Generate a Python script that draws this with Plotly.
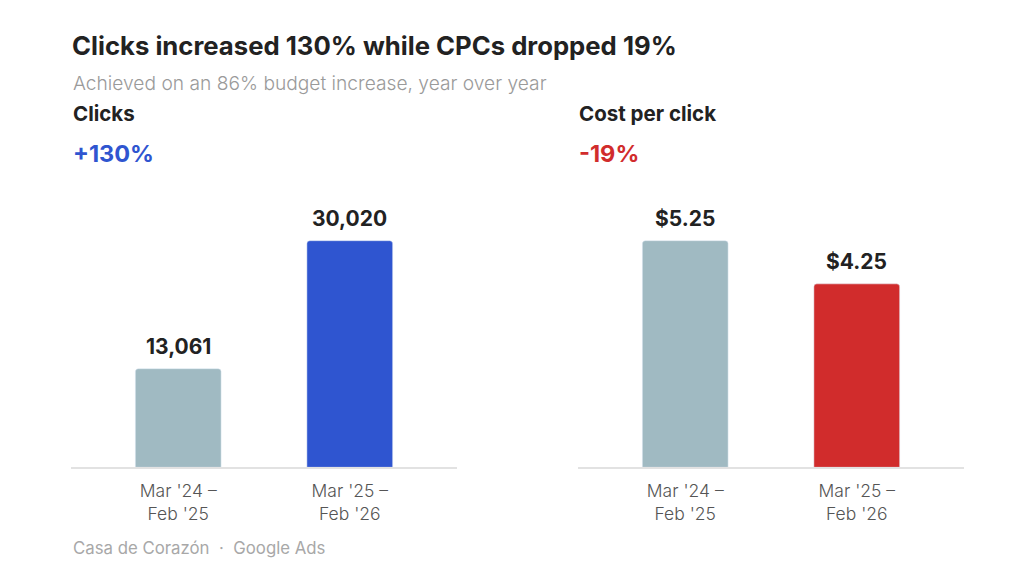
import plotly.graph_objects as go

periods = ["Mar '24 –<br>Feb '25", "Mar '25 –<br>Feb '26"]
clicks = [13061, 30020]
cpc = [5.25, 4.25]
clicks_labels = ["13,061", "30,020"]
cpc_labels = ["$5.25", "$4.25"]
clicks_change = "+130%"
cpc_change = "-19%"

W, H = 1024, 585
OFF = 8  # page body margin
FONT = "Inter"
GREY_BAR = "#A0BAC2"
BLUE = "#2F55D0"
RED = "#D12C2C"
DARK = "#222222"

def px(x):
    return (x - OFF) / W

def py(y):
    return 1 - (y - OFF) / H

cats = [0, 1]
fig = go.Figure()
fig.add_trace(go.Bar(x=cats, y=clicks, marker_color=[GREY_BAR, BLUE], width=0.5,
                     xaxis="x", yaxis="y", hoverinfo="skip", showlegend=False))
fig.add_trace(go.Bar(x=cats, y=cpc, marker_color=[GREY_BAR, RED], width=0.5,
                     xaxis="x2", yaxis="y2", hoverinfo="skip", showlegend=False))

ydom = [py(467.3), py(200)]
head = 267.3 / 226.6
axis_common = dict(showgrid=False, zeroline=False, showline=True, linecolor="#E2E2E2",
                   linewidth=2, ticks="", tickmode="array", tickvals=cats, ticktext=periods,
                   tickfont=dict(family=FONT, size=17.5, color="#555555", weight=300),
                   range=[-0.625, 1.625], fixedrange=True, ticklabelstandoff=7)
fig.update_layout(
    width=W, height=H, margin=dict(l=0, r=0, t=0, b=0),
    paper_bgcolor="white", plot_bgcolor="white", barcornerradius=3,
    xaxis=dict(domain=[px(71), px(457)], anchor="y", **axis_common),
    xaxis2=dict(domain=[px(578), px(964)], anchor="y2", **axis_common),
    yaxis=dict(domain=ydom, range=[0, max(clicks) * head], visible=False, anchor="x"),
    yaxis2=dict(domain=ydom, range=[0, max(cpc) * head], visible=False, anchor="x2"),
)

ann = []
def text(x, y, s, size, color, weight=400, anchor="left"):
    ann.append(dict(x=px(x), y=py(y), xref="paper", yref="paper", text=s, showarrow=False,
                    xanchor=anchor, yanchor="middle",
                    font=dict(family=FONT, size=size, color=color, weight=weight)))

text(70, 45, "Clicks increased 130% while CPCs dropped 19%", 25.7, DARK, 700)
text(71, 83, "Achieved on an 86% budget increase, year over year", 19.2, "#9A9A9A", 300)
text(71, 113, "Clicks", 20.5, DARK, 700)
text(577, 113, "Cost per click", 20.5, DARK, 700)
text(71, 153, clicks_change, 23.5, BLUE, 700)
text(577, 153, cpc_change, 23.5, RED, 700)
text(71, 548, "Casa de Corazón  ·  Google Ads", 16.8, "#A8A8A8", 400)

for xa, ya, vals, labels in [("x", "y", clicks, clicks_labels), ("x2", "y2", cpc, cpc_labels)]:
    for c, v, lab in zip(cats, vals, labels):
        ann.append(dict(x=c, y=v, xref=xa, yref=ya, text=lab, showarrow=False,
                        xanchor="center", yanchor="bottom", yshift=8,
                        font=dict(family=FONT, size=21, color=DARK, weight=700)))

fig.update_layout(annotations=ann)
fig.write_html("out.html")
